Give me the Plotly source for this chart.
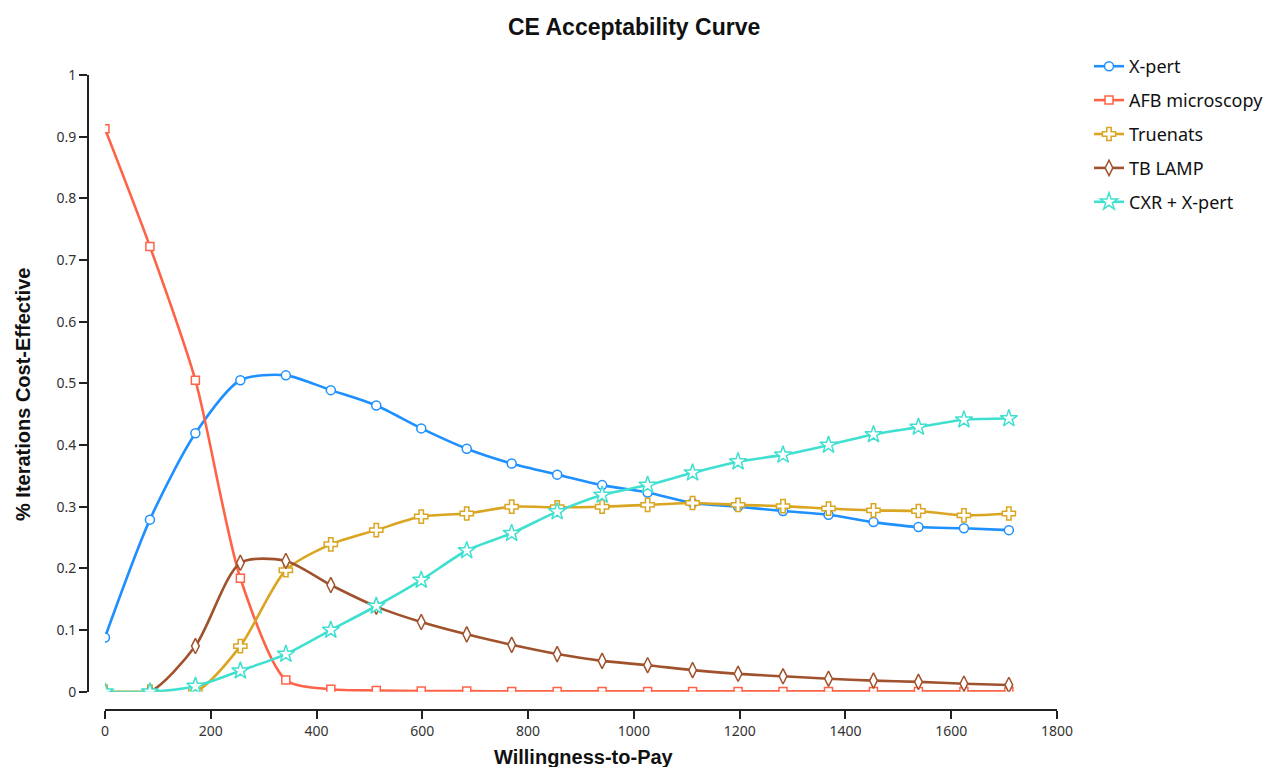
import plotly.graph_objects as go

wtp = [0, 85, 171, 256, 342, 427, 513, 598, 684, 769, 855, 940, 1026, 1111, 1197, 1282, 1368, 1453, 1538, 1624, 1709]

xpert = [0.088, 0.279, 0.419, 0.505, 0.513, 0.489, 0.464, 0.427, 0.394, 0.370, 0.352, 0.335, 0.323, 0.306, 0.300, 0.293, 0.287, 0.275, 0.267, 0.265, 0.262]
afb = [0.913, 0.722, 0.505, 0.184, 0.019, 0.004, 0.002, 0.001, 0.001, 0.0005, 0.0005, 0.0005, 0.0005, 0.0005, 0.0005, 0.0005, 0.0005, 0.0005, 0.0005, 0.0005, 0.0005]
truenats = [0.0, 0.0, 0.0, 0.074, 0.197, 0.239, 0.262, 0.284, 0.289, 0.300, 0.299, 0.300, 0.303, 0.306, 0.303, 0.301, 0.297, 0.294, 0.293, 0.286, 0.289]
tblamp = [0.0, 0.0, 0.074, 0.209, 0.212, 0.173, 0.138, 0.113, 0.093, 0.076, 0.061, 0.050, 0.043, 0.035, 0.029, 0.025, 0.021, 0.018, 0.016, 0.013, 0.011]
cxr = [0.0, 0.0, 0.009, 0.034, 0.061, 0.100, 0.139, 0.181, 0.229, 0.257, 0.292, 0.319, 0.335, 0.355, 0.373, 0.384, 0.400, 0.417, 0.429, 0.441, 0.443]

series_names = ["X-pert", "AFB microscopy", "Truenats", "TB LAMP", "CXR + X-pert"]
series_values = [xpert, afb, truenats, tblamp, cxr]
colors = ["#1E90FF", "#FF6347", "#DAA520", "#A0522D", "#40E0D0"]
symbols = ["circle", "square", "cross", "diamond-tall", "star"]
sizes = [9, 8, 11, 11, 13]

x_ticks = list(range(0, 1801, 200))
y_ticks = [0, 0.1, 0.2, 0.3, 0.4, 0.5, 0.6, 0.7, 0.8, 0.9, 1]
y_ticktext = ["0", "0.1", "0.2", "0.3", "0.4", "0.5", "0.6", "0.7", "0.8", "0.9", "1"]

fig = go.Figure()
for i, (name, vals) in enumerate(zip(series_names, series_values)):
    fig.add_trace(go.Scatter(
        x=wtp, y=vals, name=name, mode="lines+markers",
        legendgroup=f"g{i}",
        line=dict(color=colors[i], width=2.6, shape="spline", smoothing=0.75),
        marker=dict(symbol=symbols[i], size=sizes[i], color="white",
                    line=dict(color=colors[i], width=1.5)),
    ))

tickfont = dict(family="Noto Sans, DejaVu Sans, sans-serif", size=14, color="#333")
boldfont = "Liberation Sans, Arial, sans-serif"

# body margin is removed by the post script, so the figure fills the page
W, H = 1268, 767
# plot area in page px: x 88..1057, y 75..710
L, R, T, B = 88, W - 1057, 75, H - 710
pw = W - L - R
ph = H - T - B

def px_x(px):
    return (px - L) / pw

def px_y(py):
    return (H - B - py) / ph

fig.update_layout(
    width=W, height=H,
    paper_bgcolor="white", plot_bgcolor="white",
    margin=dict(l=L, r=R, t=T, b=B, autoexpand=False),
    xaxis=dict(range=[0, 1800], domain=[0.0175, 1], anchor="free", position=0,
               tickvals=x_ticks, automargin=False,
               showgrid=False, zeroline=False, showline=True, linecolor="#222", linewidth=2,
               ticks="outside", ticklen=8, tickwidth=2, tickcolor="#222", tickfont=tickfont),
    yaxis=dict(range=[0, 1], domain=[0.0288, 1], anchor="free", position=0,
               tickvals=y_ticks, ticktext=y_ticktext, automargin=False,
               showgrid=False, zeroline=False, showline=True, linecolor="#222", linewidth=2,
               ticks="outside", ticklen=8, tickwidth=2, tickcolor="#222", tickfont=tickfont),
    legend=dict(x=px_x(1089), xref="paper", y=px_y(48), yanchor="top", xanchor="left",
                font=dict(family="Noto Sans, DejaVu Sans, sans-serif", size=18, color="#111"),
                tracegroupgap=7.5, itemwidth=30, bgcolor="rgba(0,0,0,0)"),
    showlegend=True,
    annotations=[
        dict(text="<b>CE Acceptability Curve</b>", xref="paper", yref="paper",
             x=px_x(634), y=px_y(27), xanchor="center", yanchor="middle",
             showarrow=False, font=dict(family=boldfont, size=23, color="#111")),
        dict(text="<b>Willingness-to-Pay</b>", xref="paper", yref="paper",
             x=px_x(584), y=px_y(757), xanchor="center", yanchor="middle",
             showarrow=False, font=dict(family=boldfont, size=20, color="#111")),
        dict(text="<b>% Iterations Cost-Effective</b>", xref="paper", yref="paper",
             x=px_x(23), y=px_y(395), xanchor="center", yanchor="middle",
             textangle=-90, showarrow=False, font=dict(family=boldfont, size=20, color="#111")),
    ],
)

fig.write_html("out.html", config={"displayModeBar": False},
               post_script="document.body.style.margin='0';document.body.style.overflow='hidden';")
